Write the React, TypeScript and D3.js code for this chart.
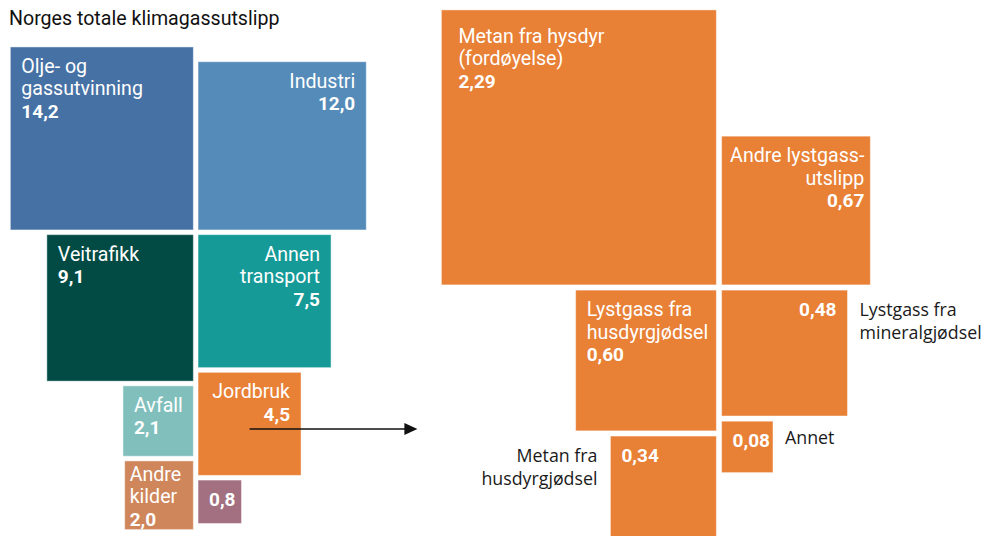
import { useEffect } from "react";
import * as d3 from "d3";

// Norges totale klimagassutslipp (mill. tonn CO2-ekv.)
const sectorNames = [
  ["Olje- og", "gassutvinning"],
  ["Industri"],
  ["Veitrafikk"],
  ["Annen", "transport"],
  ["Avfall"],
  ["Jordbruk"],
  ["Andre", "kilder"],
  [],
];
const sectorValues = [14.2, 12.0, 9.1, 7.5, 2.1, 4.5, 2.0, 0.8];
const sectorColors = [
  "#4671a5",
  "#548bb8",
  "#024b45",
  "#159a97",
  "#81bfbc",
  "#e88036",
  "#cf865b",
  "#a27080",
];

// Jordbruk split up
const farmNames = [
  ["Metan fra hysdyr", "(fordøyelse)"],
  ["Andre lystgass-", "utslipp"],
  ["Lystgass fra", "husdyrgjødsel"],
  ["Lystgass fra", "mineralgjødsel"],
  ["Metan fra", "husdyrgjødsel"],
  ["Annet"],
];
const farmValues = [2.29, 0.67, 0.6, 0.48, 0.34, 0.08];
const farmColor = "#e88036";

const title = "Norges totale klimagassutslipp";

const W = 985;
const H = 536;
const lineH = 22.5;
const labelSize = 19.6;
const labelFont = "Roboto, 'Noto Sans', sans-serif";
const outsideFont = "'Open Sans', 'Noto Sans', sans-serif";

// slot = which side of the cross (-1 left, 1 right) and row (0 above, 1.. below)
const sectorSlots = [
  [-1, 0], [1, 0], [-1, 1], [1, 1], [-1, 2], [1, 2], [-1, 3], [1, 3],
];
const farmSlots = [[-1, 0], [1, 0], [-1, 1], [1, 1], [-1, 2], [1, 2]];

function layout(values, slots, size, cx, cy, gap) {
  const next = { "-1": cy + gap / 2, "1": cy + gap / 2 };
  return values.map((v, i) => {
    const s = size(v);
    const [side, row] = slots[i];
    const x = side < 0 ? cx - gap / 2 - s : cx + gap / 2;
    let y;
    if (row === 0) {
      y = cy - gap / 2 - s;
    } else {
      y = next[side];
      next[side] = y + s + gap;
    }
    return { x, y, s, side, value: v };
  });
}

const fmt = (digits) => (v) => d3.format(`.${digits}f`)(v).replace(".", ",");

function Cluster({ boxes, names, colors, format, outsideBelow }) {
  return (
    <g>
      {boxes.map((b, i) => {
        const name = names[i] || [];
        const outside = b.s < outsideBelow;
        const inner = outside ? [] : name;
        const rightAlign = b.side > 0 && b.s > 60;
        const big = b.s > 250;
        let pad = big ? 17 : 11;
        let first = big ? 33 : 26;
        const n = inner.length + 1;
        if (first + (n - 1) * lineH > b.s - 4) {
          first = b.s - 4 - (n - 1) * lineH;
          pad = 5;
        }
        // long labels hug the right edge a bit more
        const longest = d3.max(inner, (t) => t.length) || 0;
        if (rightAlign && longest * labelSize * 0.5 > b.s - 2 * pad) pad = 6;
        const tx = rightAlign ? b.x + b.s - pad : b.x + pad;
        const anchor = rightAlign ? "end" : "start";
        return (
          <g key={i}>
            <rect
              x={b.x}
              y={b.y}
              width={b.s}
              height={b.s}
              fill={colors[i]}
              stroke="#fff"
              strokeOpacity={0.45}
            />
            {inner.map((t, j) => (
              <text
                key={j}
                x={tx}
                y={b.y + first + j * lineH}
                textAnchor={anchor}
                fill="#fff"
                fontFamily={labelFont}
                fontSize={labelSize}
              >
                {t}
              </text>
            ))}
            <text
              x={tx}
              y={b.y + first + inner.length * lineH}
              textAnchor={anchor}
              fill="#fff"
              fontFamily={labelFont}
              fontWeight="bold"
              fontSize={19}
            >
              {format(b.value)}
            </text>
            {outside &&
              name.map((t, j) => (
                <text
                  key={"o" + j}
                  x={b.side > 0 ? b.x + b.s + 12 : b.x - 13}
                  y={b.y + first + j * 23 - (name.length === 1 ? 3 : 0)}
                  textAnchor={b.side > 0 ? "start" : "end"}
                  fill="#1a1a1a"
                  fontFamily={outsideFont}
                  fontSize={17.8}
                >
                  {t}
                </text>
              ))}
          </g>
        );
      })}
    </g>
  );
}

export default function App() {
  useEffect(() => {
    document.body.style.margin = "0";
  }, []);

  const sectorSize = d3.scaleSqrt().domain([0, d3.max(sectorValues)]).range([0, 183]);
  const farmSize = d3.scaleSqrt().domain([0, d3.max(farmValues)]).range([0, 275]);

  const sectorBoxes = layout(sectorValues, sectorSlots, sectorSize, 195.7, 232.3, 4.7);
  const farmBoxes = layout(farmValues, farmSlots, farmSize, 719, 287.5, 5.2);

  // arrow from Jordbruk to its breakdown
  const jord = sectorBoxes[sectorNames.findIndex((d) => d[0] === "Jordbruk")];
  const ax0 = jord.x + jord.s / 2;
  const ay = jord.y + jord.s * 0.55;
  const ax1 = farmBoxes[0].x - 24;

  return (
    <svg width={W} height={H} style={{ display: "block" }}>
      <rect width={W} height={H} fill="#fff" />
      <text x={9} y={25} fontFamily={labelFont} fontSize={labelSize} fill="#111">
        {title}
      </text>
      <Cluster
        boxes={sectorBoxes}
        names={sectorNames}
        colors={sectorColors}
        format={fmt(1)}
        outsideBelow={0}
      />
      <Cluster
        boxes={farmBoxes}
        names={farmNames}
        colors={farmBoxes.map(() => farmColor)}
        format={fmt(2)}
        outsideBelow={130}
      />
      <line x1={ax0} y1={ay} x2={ax1 - 12} y2={ay} stroke="#111" strokeWidth={1.5} />
      <path
        d={`M${ax1},${ay} L${ax1 - 13},${ay - 6} L${ax1 - 13},${ay + 6} Z`}
        fill="#111"
      />
    </svg>
  );
}
